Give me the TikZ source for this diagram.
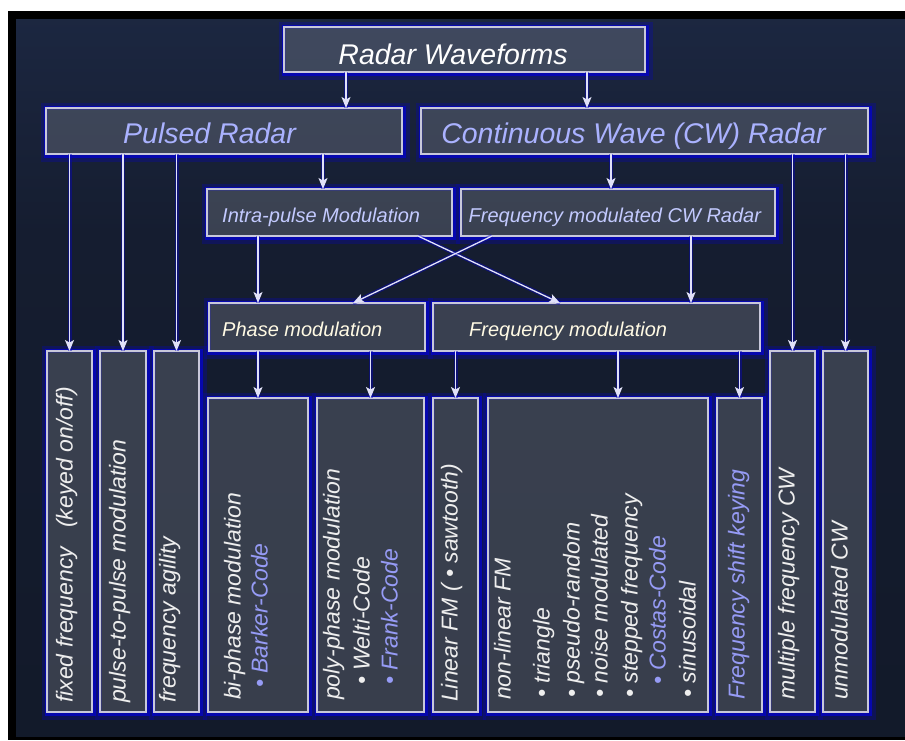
\documentclass[tikz,border=0pt]{standalone}
\usepackage{fontspec}
\setmainfont{Liberation Sans}
\usetikzlibrary{arrows.meta,fit}

\definecolor{bgtop}{RGB}{44,59,96}
\definecolor{bgupper}{RGB}{30,42,70}
\definecolor{bgmid}{RGB}{21,29,48}
\definecolor{bgbot}{RGB}{16,23,37}
\definecolor{boxline}{RGB}{200,200,218}
\definecolor{linec}{RGB}{225,225,248}
\definecolor{haloc}{RGB}{5,5,190}
\definecolor{vtext}{RGB}{238,238,238}
\definecolor{lav}{RGB}{150,155,245}
\definecolor{titlec}{RGB}{170,178,255}
\definecolor{subc}{RGB}{195,202,255}
\definecolor{cream}{RGB}{255,250,228}

\pgfdeclareverticalshading{bgshade}{100bp}{color(0bp)=(bgbot); color(60bp)=(bgmid); color(80bp)=(bgupper); color(100bp)=(bgtop)}
\pgfdeclarelayer{back}
\pgfdeclarelayer{halo}
\pgfsetlayers{back,halo,main}

\begin{document}
\begin{tikzpicture}[x=1pt,y=-1pt,
  box/.style={draw=boxline, line width=1.3pt, fill=white, fill opacity=0.16,
    inner sep=0pt, outer sep=0pt},
  halowide/.style={draw=haloc, line width=7pt, draw opacity=0.3},
  halonarrow/.style={draw=haloc, line width=3pt, draw opacity=0.85},
  conn/.style={draw=linec, line width=1.3pt,
    -{Stealth[length=11pt,width=9pt,inset=2.5pt]},
    preaction={draw=haloc, line width=4pt, draw opacity=0.45, -}},
  ttl/.style={font=\fontsize{28.5}{32}\selectfont\itshape, inner sep=0pt,
    anchor=base, text=titlec},
  midt/.style={font=\fontsize{20}{24}\selectfont\itshape, inner sep=0pt,
    anchor=base west},
  vt/.style={font=\fontsize{23}{27}\selectfont\itshape, rotate=90,
    anchor=mid west, inner sep=0pt, text=vtext},
]
\useasboundingbox (0,0) rectangle (905,740);

% frame and shaded backdrop
\begin{pgfonlayer}{back}
  \fill[white] (0,0) rectangle (905,740);
  \fill[black] (8,11) rectangle (905,740);
  \shade[shading=bgshade] (16,19) rectangle (905,736);
\end{pgfonlayer}

% boxes
\node[box, fit={(284,27) (645,72)}] (rw) {};
\node[box, fit={(46,108) (402,154)}] (pr) {};
\node[box, fit={(421,108) (868,154)}] (cw) {};
\node[box, fit={(207,189) (452,236)}] (ip) {};
\node[box, fit={(461,189) (775,236)}] (fm) {};
\node[box, fit={(209,303) (425,351)}] (pm) {};
\node[box, fit={(433,303) (760,351)}] (fq) {};
\node[box, fit={(47,351) (92,712)}] (b1) {};
\node[box, fit={(100,351) (146,712)}] (b2) {};
\node[box, fit={(154,351) (199,712)}] (b3) {};
\node[box, fit={(208,398) (308,712)}] (b4) {};
\node[box, fit={(317,398) (424,712)}] (b5) {};
\node[box, fit={(433,398) (478,712)}] (b6) {};
\node[box, fit={(488,398) (708,712)}] (b7) {};
\node[box, fit={(717,398) (762,712)}] (b8) {};
\node[box, fit={(770,351) (815,712)}] (b9) {};
\node[box, fit={(823,351) (868,712)}] (b10) {};

% blue glow around the boxes
\begin{pgfonlayer}{halo}
  \foreach \n in {rw,pr,cw,ip,fm,pm,fq,b1,b2,b3,b4,b5,b6,b7,b8,b9,b10}{
    \draw[halowide] ([shift={(-1.5,-1.5)}]\n.north west) rectangle ([shift={(4.5,4.5)}]\n.south east);
    \draw[halonarrow] ([shift={(-1,-1)}]\n.north west) rectangle ([shift={(2.5,2.5)}]\n.south east);
  }
\end{pgfonlayer}

% headings
\node[ttl, text=white] (trw) at (453,64) {Radar Waveforms};
\node[ttl] (tpr) at (209.5,143) {Pulsed Radar};
\node[ttl] (tcw) at (633.5,143) {Continuous Wave (CW) Radar};
\node[midt, text=subc] (tip) at (222,222) {Intra-pulse Modulation};
\node[midt, text=subc] (tfm) at (468.5,222) {Frequency modulated CW Radar};
\node[midt, text=cream] (tpm) at (222,336) {Phase modulation};
\node[midt, text=cream] (tfq) at (469,336) {Frequency modulation};

% vertical labels
\node[vt] (l1) at (70,703) {fixed frequency \hspace{0.55em}(keyed on/off)};
\node[vt] (l2) at (123,703) {pulse-to-pulse modulation};
\node[vt] (l3) at (173,703) {frequency agility};
\node[vt] (l4a) at (238,700) {bi-phase modulation};
\node[vt, text=lav] (l4b) at (265,688) {• Barker-Code};
\node[vt] (l5a) at (337,700) {poly-phase modulation};
\node[vt] (l5b) at (367,685) {• Welti-Code};
\node[vt, text=lav] (l5c) at (395,685) {• Frank-Code};
\node[vt] (l6) at (455,702) {Linear FM ( • sawtooth)};
\node[vt] (l7a) at (508,700) {non-linear FM};
\node[vt] (l7b) at (547,698) {• triangle};
\node[vt] (l7c) at (577,698) {• pseudo-random};
\node[vt] (l7d) at (605,698) {• noise modulated};
\node[vt] (l7e) at (635,698) {• stepped frequency};
\node[vt, text=lav] (l7f) at (663,685) {• Costas-Code};
\node[vt] (l7g) at (693,698) {• sinusoidal};
\node[vt, text=lav] (l8) at (742,700) {Frequency shift keying};
\node[vt] (l9) at (792,700) {multiple frequency CW};
\node[vt] (l10) at (845,700) {unmodulated CW};

% connectors
\draw[conn] ([xshift=-118.5pt]rw.south) -- ([xshift=-118.5pt]rw.south |- pr.north);
\draw[conn] ([xshift=122.5pt]rw.south) -- ([xshift=122.5pt]rw.south |- cw.north);
\draw[conn] (b1.north |- pr.south) -- (b1.north);
\draw[conn] (b2.north |- pr.south) -- (b2.north);
\draw[conn] (b3.north |- pr.south) -- (b3.north);
\draw[conn] ([xshift=-6.5pt]ip.north |- pr.south) -- ([xshift=-6.5pt]ip.north);
\draw[conn] ([xshift=-7pt]fm.north |- cw.south) -- ([xshift=-7pt]fm.north);
\draw[conn] (b9.north |- cw.south) -- (b9.north);
\draw[conn] (b10.north |- cw.south) -- (b10.north);
\draw[conn] (ip.south -| b4.north) -- (pm.north -| b4.north);
\draw[conn] ([xshift=73pt]fm.south) -- ([xshift=73pt]fm.south |- fq.north);
\draw[conn] ([xshift=88.5pt]ip.south) -- ([xshift=-36.5pt]fq.north);
\draw[conn] ([xshift=-126pt]fm.south) -- ([xshift=36pt]pm.north);
\draw[conn] (b4.north |- pm.south) -- (b4.north);
\draw[conn] (b5.north |- pm.south) -- (b5.north);
\draw[conn] (b6.north |- fq.south) -- (b6.north);
\draw[conn] ([xshift=20pt]b7.north |- fq.south) -- ([xshift=20pt]b7.north);
\draw[conn] (b8.north |- fq.south) -- (b8.north);
\end{tikzpicture}
\end{document}
